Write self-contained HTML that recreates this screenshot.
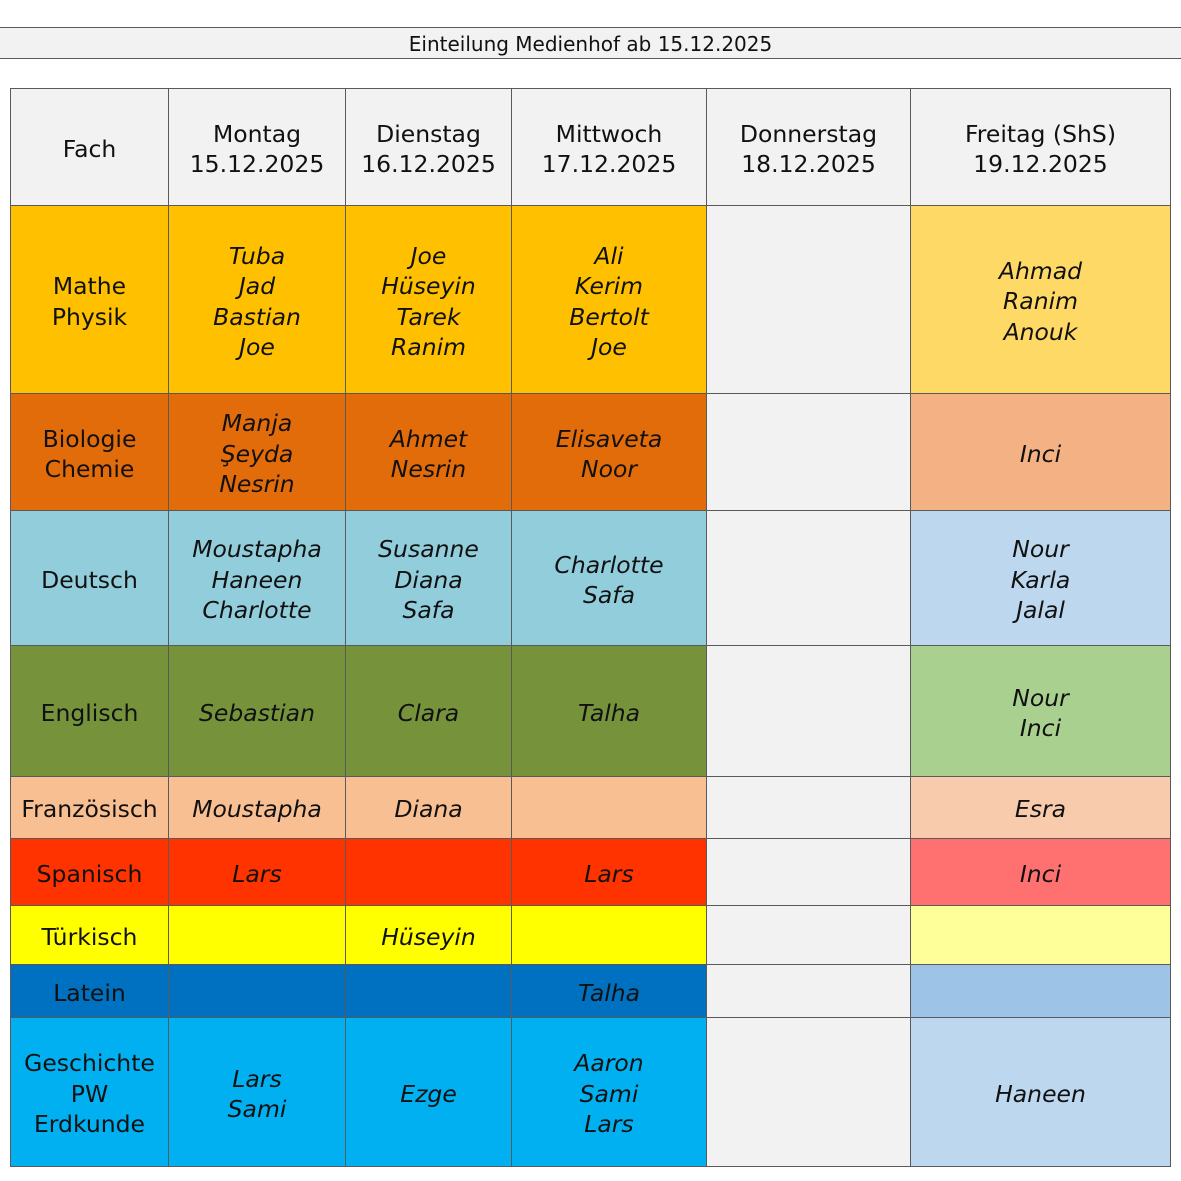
<!DOCTYPE html>
<html><head><meta charset="utf-8"><style>
body{margin:0;width:1181px;height:1181px;background:#fff;position:relative;overflow:hidden;font-family:"DejaVu Sans","Liberation Sans",sans-serif;color:#111}
.t{position:absolute;left:-1px;top:27px;width:1183px;height:32px;background:#f2f2f2;border-top:1px solid #595959;border-bottom:1px solid #595959;box-sizing:border-box;text-align:center;font-size:20px;line-height:32px}
.c{position:absolute;box-sizing:border-box;border:1px solid #5a5a5a;display:flex;align-items:center;justify-content:center;text-align:center;font-size:23.5px;line-height:30.5px;white-space:nowrap;padding-top:4px}
.i{font-style:italic}
</style></head><body>
<div class="t">Einteilung Medienhof ab 15.12.2025</div>
<div class="c" style="left:10px;top:88px;width:159px;height:118px;background:#f2f2f2">Fach</div>
<div class="c" style="left:168px;top:88px;width:178px;height:118px;background:#f2f2f2">Montag<br>15.12.2025</div>
<div class="c" style="left:345px;top:88px;width:167px;height:118px;background:#f2f2f2">Dienstag<br>16.12.2025</div>
<div class="c" style="left:511px;top:88px;width:196px;height:118px;background:#f2f2f2">Mittwoch<br>17.12.2025</div>
<div class="c" style="left:706px;top:88px;width:205px;height:118px;background:#f2f2f2">Donnerstag<br>18.12.2025</div>
<div class="c" style="left:910px;top:88px;width:261px;height:118px;background:#f2f2f2">Freitag (ShS)<br>19.12.2025</div>

<div class="c" style="left:10px;top:205px;width:159px;height:189px;background:#ffc000">Mathe<br>Physik</div>
<div class="c i" style="left:168px;top:205px;width:178px;height:189px;background:#ffc000">Tuba<br>Jad<br>Bastian<br>Joe</div>
<div class="c i" style="left:345px;top:205px;width:167px;height:189px;background:#ffc000">Joe<br>Hüseyin<br>Tarek<br>Ranim</div>
<div class="c i" style="left:511px;top:205px;width:196px;height:189px;background:#ffc000">Ali<br>Kerim<br>Bertolt<br>Joe</div>
<div class="c" style="left:706px;top:205px;width:205px;height:189px;background:#f2f2f2"></div>
<div class="c i" style="left:910px;top:205px;width:261px;height:189px;background:#ffd966">Ahmad<br>Ranim<br>Anouk</div>

<div class="c" style="left:10px;top:393px;width:159px;height:118px;background:#e26b0a">Biologie<br>Chemie</div>
<div class="c i" style="left:168px;top:393px;width:178px;height:118px;background:#e26b0a">Manja<br>Şeyda<br>Nesrin</div>
<div class="c i" style="left:345px;top:393px;width:167px;height:118px;background:#e26b0a">Ahmet<br>Nesrin</div>
<div class="c i" style="left:511px;top:393px;width:196px;height:118px;background:#e26b0a">Elisaveta<br>Noor</div>
<div class="c" style="left:706px;top:393px;width:205px;height:118px;background:#f2f2f2"></div>
<div class="c i" style="left:910px;top:393px;width:261px;height:118px;background:#f4b183">Inci</div>

<div class="c" style="left:10px;top:510px;width:159px;height:136px;background:#92cddc">Deutsch</div>
<div class="c i" style="left:168px;top:510px;width:178px;height:136px;background:#92cddc">Moustapha<br>Haneen<br>Charlotte</div>
<div class="c i" style="left:345px;top:510px;width:167px;height:136px;background:#92cddc">Susanne<br>Diana<br>Safa</div>
<div class="c i" style="left:511px;top:510px;width:196px;height:136px;background:#92cddc">Charlotte<br>Safa</div>
<div class="c" style="left:706px;top:510px;width:205px;height:136px;background:#f2f2f2"></div>
<div class="c i" style="left:910px;top:510px;width:261px;height:136px;background:#bdd7ee">Nour<br>Karla<br>Jalal</div>

<div class="c" style="left:10px;top:645px;width:159px;height:132px;background:#76933c">Englisch</div>
<div class="c i" style="left:168px;top:645px;width:178px;height:132px;background:#76933c">Sebastian</div>
<div class="c i" style="left:345px;top:645px;width:167px;height:132px;background:#76933c">Clara</div>
<div class="c i" style="left:511px;top:645px;width:196px;height:132px;background:#76933c">Talha</div>
<div class="c" style="left:706px;top:645px;width:205px;height:132px;background:#f2f2f2"></div>
<div class="c i" style="left:910px;top:645px;width:261px;height:132px;background:#a9d08e">Nour<br>Inci</div>

<div class="c" style="left:10px;top:776px;width:159px;height:63px;background:#f8bf92">Französisch</div>
<div class="c i" style="left:168px;top:776px;width:178px;height:63px;background:#f8bf92">Moustapha</div>
<div class="c i" style="left:345px;top:776px;width:167px;height:63px;background:#f8bf92">Diana</div>
<div class="c i" style="left:511px;top:776px;width:196px;height:63px;background:#f8bf92"></div>
<div class="c" style="left:706px;top:776px;width:205px;height:63px;background:#f2f2f2"></div>
<div class="c i" style="left:910px;top:776px;width:261px;height:63px;background:#f8cbad">Esra</div>

<div class="c" style="left:10px;top:838px;width:159px;height:68px;background:#ff3300">Spanisch</div>
<div class="c i" style="left:168px;top:838px;width:178px;height:68px;background:#ff3300">Lars</div>
<div class="c i" style="left:345px;top:838px;width:167px;height:68px;background:#ff3300"></div>
<div class="c i" style="left:511px;top:838px;width:196px;height:68px;background:#ff3300">Lars</div>
<div class="c" style="left:706px;top:838px;width:205px;height:68px;background:#f2f2f2"></div>
<div class="c i" style="left:910px;top:838px;width:261px;height:68px;background:#ff7070">Inci</div>

<div class="c" style="left:10px;top:905px;width:159px;height:60px;background:#ffff00">Türkisch</div>
<div class="c i" style="left:168px;top:905px;width:178px;height:60px;background:#ffff00"></div>
<div class="c i" style="left:345px;top:905px;width:167px;height:60px;background:#ffff00">Hüseyin</div>
<div class="c i" style="left:511px;top:905px;width:196px;height:60px;background:#ffff00"></div>
<div class="c" style="left:706px;top:905px;width:205px;height:60px;background:#f2f2f2"></div>
<div class="c i" style="left:910px;top:905px;width:261px;height:60px;background:#ffff99"></div>

<div class="c" style="left:10px;top:964px;width:159px;height:54px;background:#0070c0">Latein</div>
<div class="c i" style="left:168px;top:964px;width:178px;height:54px;background:#0070c0"></div>
<div class="c i" style="left:345px;top:964px;width:167px;height:54px;background:#0070c0"></div>
<div class="c i" style="left:511px;top:964px;width:196px;height:54px;background:#0070c0">Talha</div>
<div class="c" style="left:706px;top:964px;width:205px;height:54px;background:#f2f2f2"></div>
<div class="c i" style="left:910px;top:964px;width:261px;height:54px;background:#9dc3e6"></div>

<div class="c" style="left:10px;top:1017px;width:159px;height:150px;background:#00b0f0">Geschichte<br>PW<br>Erdkunde</div>
<div class="c i" style="left:168px;top:1017px;width:178px;height:150px;background:#00b0f0">Lars<br>Sami</div>
<div class="c i" style="left:345px;top:1017px;width:167px;height:150px;background:#00b0f0">Ezge</div>
<div class="c i" style="left:511px;top:1017px;width:196px;height:150px;background:#00b0f0">Aaron<br>Sami<br>Lars</div>
<div class="c" style="left:706px;top:1017px;width:205px;height:150px;background:#f2f2f2"></div>
<div class="c i" style="left:910px;top:1017px;width:261px;height:150px;background:#bdd7ee">Haneen</div>
</body></html>
